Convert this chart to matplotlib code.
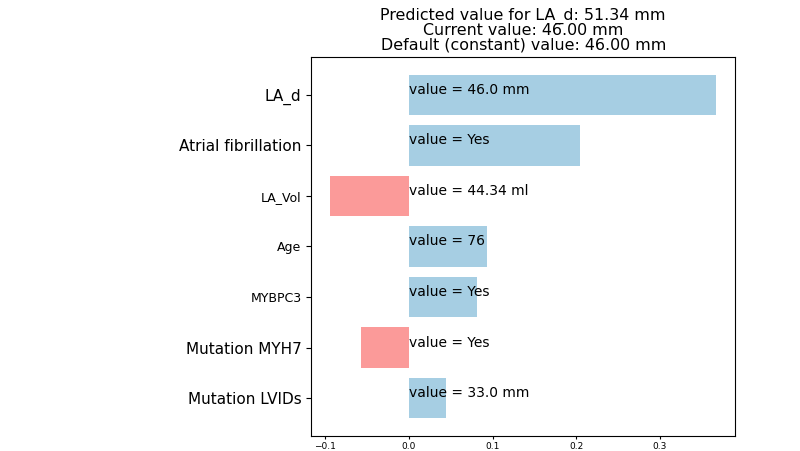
import matplotlib
matplotlib.use('Agg')
import matplotlib.pyplot as plt

# feature contributions (top to bottom)
features = ['LA_d', 'Atrial fibrillation', 'LA_Vol', 'Age', 'MYBPC3',
            'Mutation MYH7', 'Mutation LVIDs']
contrib = [0.367, 0.204, -0.094, 0.093, 0.081, -0.057, 0.044]
values = ['value = 46.0 mm', 'value = Yes', 'value = 44.34 ml', 'value = 76',
          'value = Yes', 'value = Yes', 'value = 33.0 mm']
label_sizes = [11, 11, 9, 9, 9, 11, 11]

title = ('Predicted value for LA_d: 51.34 mm\n'
         'Current value: 46.00 mm\n'
         'Default (constant) value: 46.00 mm')

fig = plt.figure(figsize=(8, 4.51), dpi=100)
ax = fig.add_axes([0.389, 0.033, 0.530, 0.841])

pos = list(range(len(features)))[::-1]
colors = ['#a6cee3' if c >= 0 else '#fb9a99' for c in contrib]
ax.barh(pos, contrib, height=0.8, color=colors)

for p, v in zip(pos, values):
    ax.text(0, p + 0.1, v, ha='left', va='center', fontsize=10, color='black')

ax.set_yticks(pos)
ax.set_yticklabels(features)
for lbl, s in zip(ax.get_yticklabels(), label_sizes):
    lbl.set_fontsize(s)

ax.set_xlim(-0.117, 0.39)
ax.set_ylim(-0.75, len(features) - 0.25)
ax.set_xticks([-0.1, 0.0, 0.1, 0.2, 0.3])
ax.tick_params(axis='x', labelsize=6.5, length=2.5, pad=1.5)
ax.set_title(title, fontsize=11.4, linespacing=0.95, pad=5)

plt.savefig('out.png', dpi=100, facecolor='white')
